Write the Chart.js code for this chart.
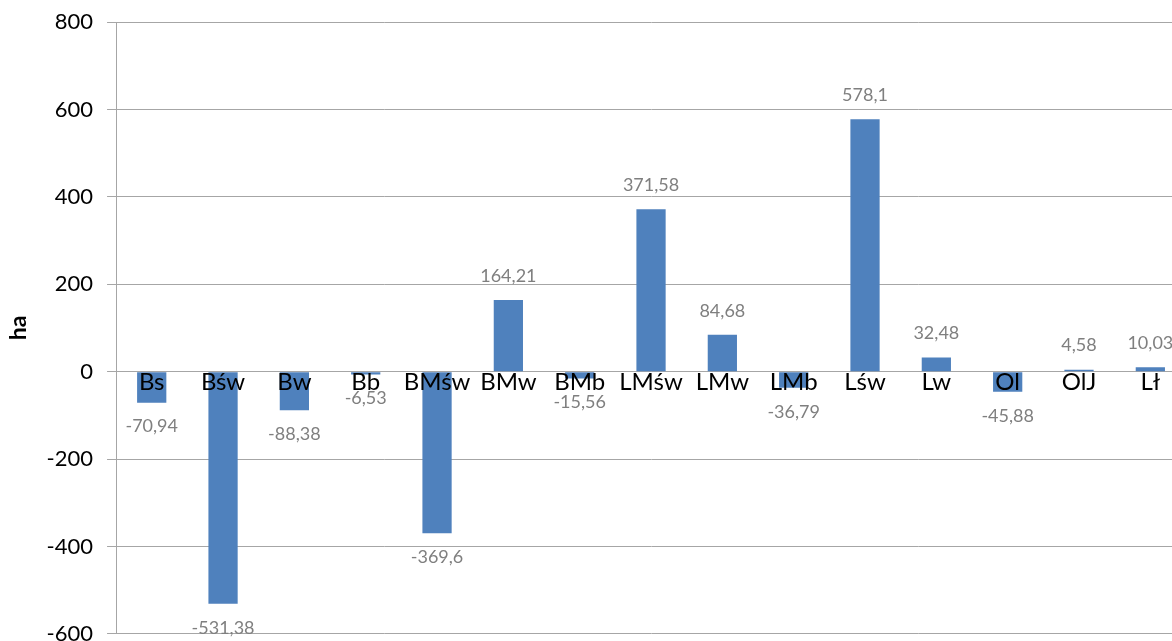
<!DOCTYPE html>
<html>
<head>
<meta charset="utf-8">
<script src="https://cdn.jsdelivr.net/npm/chart.js@4.4.1/dist/chart.umd.min.js"></script>
<style>
  html, body { margin: 0; padding: 0; background: #ffffff; overflow: hidden; }
  #wrap { width: 1172px; height: 641px; overflow: hidden; }
  canvas { display: block; margin-top: -5px; }
</style>
</head>
<body>
<div id="wrap"><canvas id="chart" width="1192" height="666"></canvas></div>
<script>
// Land-use change by habitat type (ha)
const categories = ['Bs', 'Bśw', 'Bw', 'Bb', 'BMśw', 'BMw', 'BMb', 'LMśw', 'LMw', 'LMb', 'Lśw', 'Lw', 'Ol', 'OlJ', 'Lł'];
const changeHa = [-70.94, -531.38, -88.38, -6.53, -369.6, 164.21, -15.56, 371.58, 84.68, -36.79, 578.1, 32.48, -45.88, 4.58, 10.03];
const yTicks = [800, 600, 400, 200, 0, -200, -400, -600];

const FONT = 'Lato, "Open Sans", sans-serif';
const GRID = '#a6a6a6';

// Writes each bar's value (decimal comma) past the bar's end
const valueLabels = {
  id: 'valueLabels',
  afterDatasetsDraw(chart) {
    const ctx = chart.ctx;
    const meta = chart.getDatasetMeta(0);
    ctx.save();
    ctx.font = '18px ' + FONT;
    ctx.fillStyle = '#7f7f7f';
    ctx.textAlign = 'center';
    ctx.textBaseline = 'middle';
    meta.data.forEach((bar, i) => {
      const v = changeHa[i];
      const text = String(v).replace('.', ',');
      const y = v >= 0 ? bar.y - 24 : bar.y + 24;
      ctx.fillText(text, bar.x, y);
    });
    ctx.restore();
  }
};

new Chart(document.getElementById('chart'), {
  type: 'bar',
  data: {
    labels: categories,
    datasets: [{
      data: changeHa,
      backgroundColor: '#4f81bd',
      borderWidth: 0,
      categoryPercentage: 1.0,
      barPercentage: 0.41
    }]
  },
  options: {
    responsive: false,
    animation: false,
    layout: { padding: { top: 4, right: 6, left: 5, bottom: 0 } },
    plugins: {
      legend: { display: false },
      tooltip: { enabled: false }
    },
    scales: {
      x: {
        position: { y: 0 },
        grid: { display: false, drawTicks: false },
        border: { color: GRID, width: 1 },
        ticks: {
          z: 1,
          color: '#000000',
          font: { family: FONT, size: 24 },
          padding: -4,
          maxRotation: 0,
          autoSkip: false
        }
      },
      y: {
        min: -600,
        max: 800,
        afterBuildTicks(axis) { axis.ticks = yTicks.map(v => ({ value: v })); },
        grid: { color: GRID, lineWidth: 1, tickLength: 9, drawTicks: true },
        border: { color: GRID, width: 1 },
        ticks: {
          color: '#000000',
          font: { family: FONT, size: 22 },
          padding: 14
        },
        title: {
          display: true,
          text: 'ha',
          color: '#000000',
          font: { family: FONT, size: 23, weight: 'bold' },
          padding: { top: 0, bottom: 0 }
        }
      }
    }
  },
  plugins: [valueLabels]
});
</script>
</body>
</html>
